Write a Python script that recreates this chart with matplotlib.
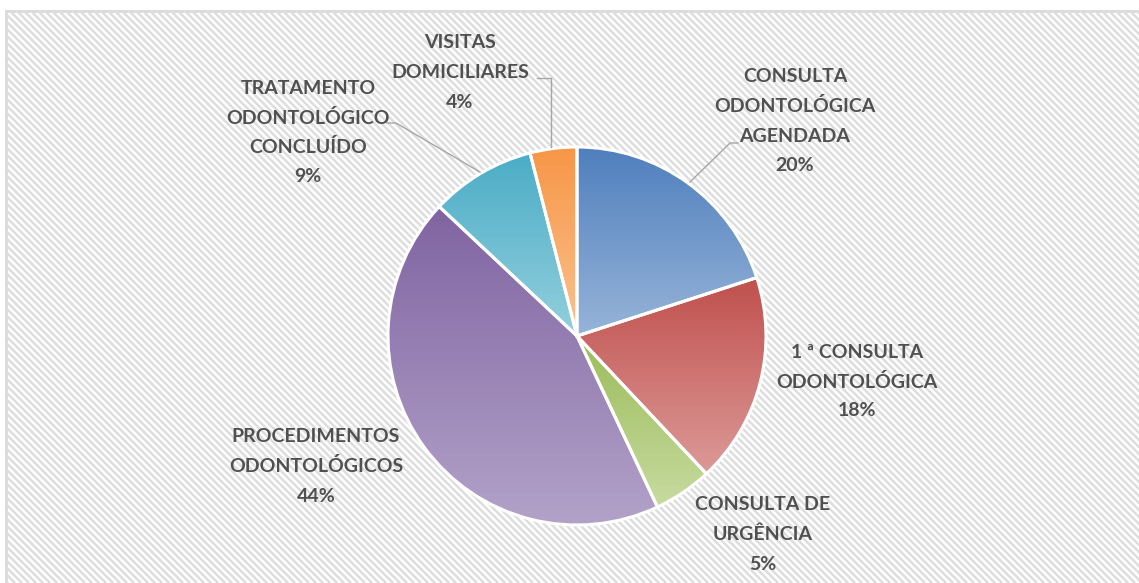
import numpy as np
import matplotlib
matplotlib.use("Agg")
import matplotlib.pyplot as plt
from matplotlib.patches import Rectangle
from matplotlib.collections import LineCollection
from matplotlib.colors import LinearSegmentedColormap

labels = ["CONSULTA\nODONTOLÓGICA\nAGENDADA", "1 ª CONSULTA\nODONTOLÓGICA",
          "CONSULTA DE\nURGÊNCIA", "PROCEDIMENTOS\nODONTOLÓGICOS",
          "TRATAMENTO\nODONTOLÓGICO\nCONCLUÍDO", "VISITAS\nDOMICILIARES"]
values = [20, 18, 5, 44, 9, 4]
dark_colors = ["#4f7fbd", "#c0504d", "#9bbb59", "#8064a2", "#4bacc6", "#f79646"]
light_colors = ["#97b4d9", "#dc9a98", "#c7dba0", "#b3a3c9", "#93d0de", "#fbc291"]

W, H = 1139, 583
fig = plt.figure(figsize=(W / 100, H / 100), dpi=100)
ax = fig.add_axes([0, 0, 1, 1])

def py(y):
    return H - y

# background frame with diagonal stripes
bg = Rectangle((6, -5), 1140, H - 11 + 5, facecolor='white',
               edgecolor='#d9d9d9', linewidth=2, zorder=0)
ax.add_patch(bg)
period = 7.0
segs = []
for c in np.arange(-H - 20, W + 20, period):
    # line going down-right in image: y_up = H - (x - c)
    segs.append([(c, H), (c + H, 0)])
stripes = LineCollection(segs, colors='#dedede', linewidths=1.8, zorder=0.5)
ax.add_collection(stripes)
stripes.set_clip_path(bg)

cx, cy, r = 577, py(336), 189
wedges, _ = ax.pie(values, center=(cx, cy), radius=r, startangle=90,
                   counterclock=False, wedgeprops=dict(edgecolor='white', linewidth=2.2))

for w, dc, lc in zip(wedges, dark_colors, light_colors):
    path = w.get_path().transformed(w.get_patch_transform())
    verts = path.vertices
    x0, x1 = verts[:, 0].min(), verts[:, 0].max()
    y0, y1 = verts[:, 1].min(), verts[:, 1].max()
    cmap = LinearSegmentedColormap.from_list("g", [lc, dc])
    grad = np.linspace(0, 1, 256).reshape(-1, 1)
    im = ax.imshow(grad, cmap=cmap, extent=(x0, x1, y0, y1), origin='lower',
                   aspect='auto', zorder=2, interpolation='bilinear')
    im.set_clip_path(w)
    w.set_facecolor('none')
    w.set_zorder(3)

# labels: (x center, y of first line)
pcts = [f"{v}%" for v in values]
label_pos = [(795, 77), (857, 352), (763, 505), (316, 437), (308, 88), (460, 43)]
lh = 29.5
for lab, pct, (x, y0) in zip(labels, pcts, label_pos):
    lines = lab.split("\n") + [pct]
    for i, t in enumerate(lines):
        ax.text(x, py(y0 + i * lh), t, ha='center', va='center',
                fontsize=14, fontweight='bold', color='#505050',
                family=['Lato', 'DejaVu Sans'], zorder=5)

# leader lines
lc_ = '#a6a6a6'
ax.plot([738, 730, 690], [py(143), py(143), py(182)], color=lc_, lw=1, zorder=4)
ax.plot([387, 396, 480], [py(123), py(123), py(172)], color=lc_, lw=1, zorder=4)
ax.plot([537, 551, 551], [py(78), py(78), py(147)], color=lc_, lw=1, zorder=4)

ax.set_xlim(0, W)
ax.set_ylim(0, H)
ax.set_aspect('auto')
ax.set_axis_off()
fig.savefig("out.png", dpi=100, facecolor='white')
